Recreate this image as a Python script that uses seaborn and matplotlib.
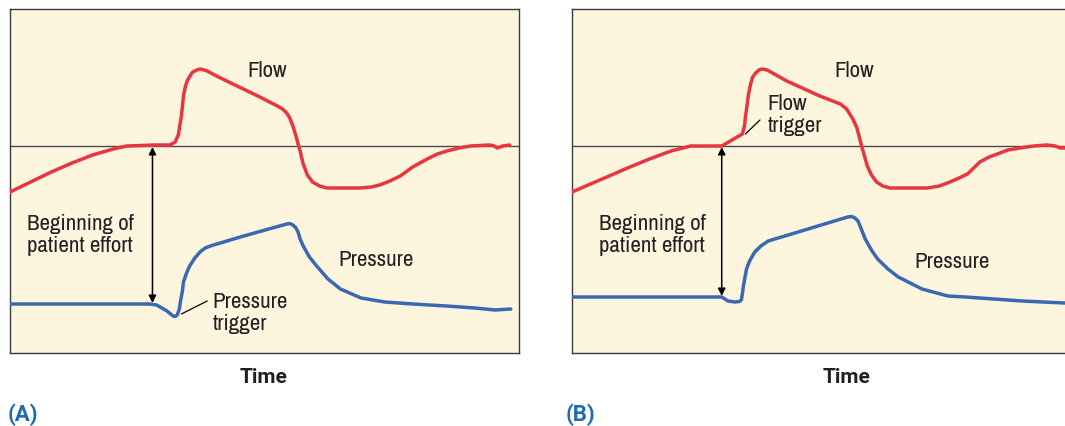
import numpy as np
import pandas as pd
import matplotlib
matplotlib.use("Agg")
import matplotlib.pyplot as plt
import seaborn as sns
from matplotlib import font_manager

# ---------------- data (time units / signal units, baseline flow = 0) ----------------
flow_a_t = [0, 20, 40, 60, 80, 100, 113, 140, 155, 160, 163, 166, 168, 170, 172, 175, 177, 181, 184,
            188, 191, 200, 210, 242, 259, 264, 268, 271, 274, 277, 279, 281, 284, 288, 293, 300, 307,
            339, 350, 358, 368, 378, 390, 404, 414, 423, 435, 446, 465, 469, 472, 475, 477, 484]
flow_a = [-46, -36, -26, -17, -9, -3, 0, 1, 1, 4, 11, 30, 50, 60, 66, 71, 74, 76, 77,
          76, 75, 70, 65, 49, 40, 37, 33, 28, 20, 10, 2, -5, -18, -29, -36, -40, -42,
          -42, -41, -39, -35, -30, -21, -13, -8, -5, -2, 0, 1, 0, -2, -1, 0, 1]

pres_a_t = [0, 126, 135, 142, 147, 152, 158, 160, 162, 164, 165, 167, 168, 171, 174, 179, 184, 189,
            194, 223, 268, 271, 274, 277, 279, 281, 284, 290, 297, 308, 320, 340, 363, 390, 423, 450,
            470, 485]
pres_a = [-158, -158, -158, -159, -162, -165, -170, -170.5, -169, -163, -156, -145, -136, -127, -120,
          -112, -106, -102, -100, -91, -78, -77.5, -79, -82, -86, -93, -100, -111, -120, -133, -143,
          -152, -156, -158, -160, -162, -164, -163]

flow_b_t = [0, 18, 36, 56, 75, 96, 115, 145, 150, 165, 167, 168, 171, 173, 175, 178, 181, 184, 189,
            208, 240, 260, 266, 272, 276, 279, 281, 283, 286, 290, 295, 301, 308, 344, 356, 366, 375,
            383, 395, 404, 412, 422, 434, 447, 460, 468, 473, 477, 492]
flow_b = [-46, -38, -30, -21, -13, -5, 0, 0, 3, 12, 20, 29, 52, 62, 69, 73, 76, 77, 76,
          65, 50, 42, 37, 27, 18, 6, -2, -9, -20, -29, -36, -40, -42, -42, -40, -36, -32,
          -28, -16, -11, -8, -4, -2, 0, 1, 0, -2, -2, -2]

pres_b_t = [0, 138, 145, 148, 151, 158, 162, 164, 165, 166, 169, 172, 177, 183, 190, 219, 267, 271,
            274, 277, 279, 284, 290, 296, 306, 316, 339, 364, 381, 436, 477, 492]
pres_b = [-151, -151, -151, -153, -155, -156, -155.5, -154, -148, -140, -123, -115, -106, -100, -95,
          -86, -71, -70.5, -72, -75, -80, -93, -104, -113, -123, -131, -143, -150, -151, -155, -157,
          -157]

panel_labels = ["(A)", "(B)"]
x_label = "Time"
effort_label = "Beginning of\npatient effort"

# ---------------- style ----------------
sns.set_theme(style="white")
ttf = font_manager.fontManager.ttflist
cond = sorted({f.name for f in ttf if ("Condensed" in f.name or "Narrow" in f.name)})
stretch = "normal"
if cond:
    main_font = cond[0]
    fs = 16.5
elif any(f.name == "DejaVu Sans" and f.stretch == "condensed" for f in ttf):
    main_font = "DejaVu Sans"
    stretch = "condensed"
    fs = 16.5
else:
    main_font = "Roboto"
    fs = 15

plt.rcParams["font.family"] = [main_font, "DejaVu Sans"]
plt.rcParams["font.stretch"] = stretch

BG = "#FDF5DE"
RED = "#E8353F"
BLUE = "#3A68B2"
LBLUE = "#1F6BB3"
TXT = "#231F20"

W, H = 1065, 427
fig = plt.figure(figsize=(W / 100, H / 100), dpi=100)
fig.patch.set_facecolor("white")

def px_axes(l, t, r, b):
    return fig.add_axes([l / W, 1 - b / H, (r - l) / W, (b - t) / H])

axA = px_axes(10, 10, 519, 354)
axB = px_axes(572, 10, 1080, 354)

def setup(ax, width):
    ax.set_facecolor(BG)
    ax.set_xlim(0, width)
    ax.set_ylim(-207, 137)
    ax.set_xticks([])
    ax.set_yticks([])
    ax.set_xlabel("")
    ax.set_ylabel("")
    for s in ax.spines.values():
        s.set_color("#3a3a3a")
        s.set_linewidth(1.0)

lw = 2.5
tk = dict(fontsize=fs, color=TXT, fontstretch=stretch)
tb = dict(fontsize=15, fontweight="bold", family=["Roboto", "DejaVu Sans"], fontstretch="normal", clip_on=False)
pb = dict(fontsize=16, fontweight="bold", family=["Roboto", "DejaVu Sans"], fontstretch="normal", clip_on=False)

for ax, width, ft, fv, pt, pv in [(axA, 493, flow_a_t, flow_a, pres_a_t, pres_a),
                                  (axB, 492, flow_b_t, flow_b, pres_b_t, pres_b)]:
    ax.axhline(0, color="#4a4a4a", lw=1.0, zorder=1)
    sns.lineplot(x=ft, y=fv, ax=ax, color=RED, lw=lw, sort=False, estimator=None, zorder=3)
    sns.lineplot(x=pt, y=pv, ax=ax, color=BLUE, lw=lw, sort=False, estimator=None, zorder=3)
    setup(ax, width)

# ---------- panel A ----------
axA.annotate("", xy=(138, -157), xytext=(138, -1),
             arrowprops=dict(arrowstyle="<|-|>", color="black", lw=1.1, mutation_scale=11, shrinkA=0, shrinkB=0))
axA.text(249, 76, "Flow", ha="center", va="center", **tk)
axA.text(16, -88, effort_label, ha="left", va="center", linespacing=1.12, **tk)
axA.text(318, -113, "Pressure", ha="left", va="center", **tk)
axA.text(196, -166, "Pressure\ntrigger", ha="left", va="center", linespacing=1.12, **tk)
axA.annotate("", xy=(166, -168), xytext=(191, -155),
             arrowprops=dict(arrowstyle="-", color="black", lw=0.9, shrinkA=0, shrinkB=0))
axA.text(246, -231, x_label, color=TXT, ha="center", va="center", **tb)
axA.text(-2, -268, panel_labels[0], color=LBLUE, ha="left", va="center", **pb)

# ---------- panel B ----------
axB.annotate("", xy=(145, -150), xytext=(145, -1),
             arrowprops=dict(arrowstyle="<|-|>", color="black", lw=1.1, mutation_scale=11, shrinkA=0, shrinkB=0))
axB.text(273, 76, "Flow", ha="center", va="center", **tk)
axB.text(189, 32, "Flow\ntrigger", ha="left", va="center", linespacing=1.12, **tk)
axB.annotate("", xy=(168, 12), xytext=(182, 26),
             arrowprops=dict(arrowstyle="-", color="black", lw=0.9, shrinkA=0, shrinkB=0))
axB.text(26, -88, effort_label, ha="left", va="center", linespacing=1.12, **tk)
axB.text(332, -115, "Pressure", ha="left", va="center", **tk)
axB.text(266, -231, x_label, color=TXT, ha="center", va="center", **tb)
axB.text(-6, -268, panel_labels[1], color=LBLUE, ha="left", va="center", **pb)
axB.spines["right"].set_visible(False)

fig.savefig("out.png", dpi=100, facecolor="white")
